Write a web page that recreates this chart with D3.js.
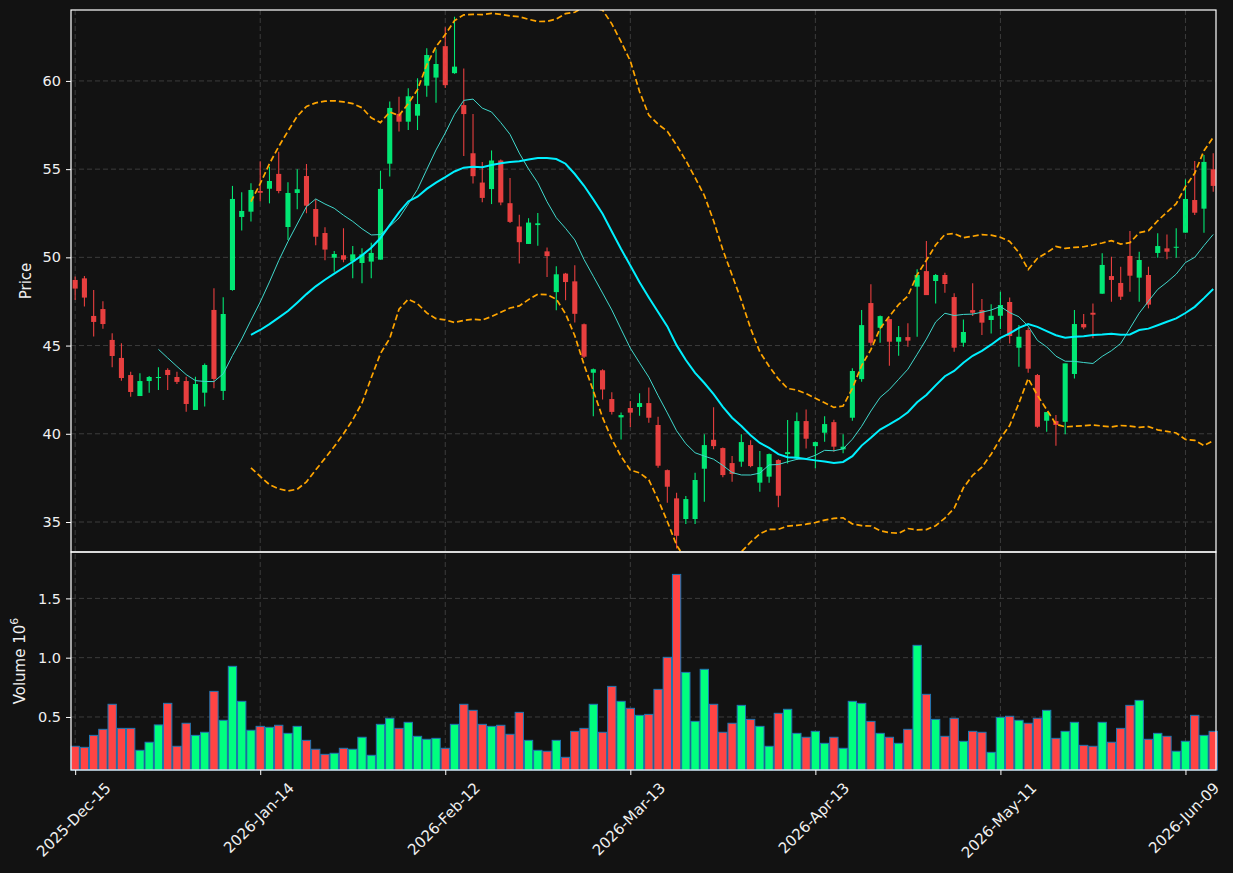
<!DOCTYPE html>
<html>
<head>
<meta charset="utf-8">
<script src="https://cdn.jsdelivr.net/npm/d3@7"></script>
<style>
    body { margin: 0; background: #121212; }
    #chart text { font-family: "DejaVu Sans", sans-serif; fill: #f0f0f0; }
</style>
</head>
<body>
<div id="chart"></div>
<script>

// daily OHLC, one entry per trading day (index 0 = 2025-Dec-15)
const opens = [48.72, 48.81, 46.68, 47.07, 45.32, 44.30, 43.33, 42.14, 42.99, 43.16,
    43.62, 43.22, 42.99, 41.35, 42.33, 47.02, 42.43, 48.15, 52.29, 52.59,
    53.76, 53.89, 54.73, 51.72, 53.65, 54.61, 52.74, 51.38, 49.98, 50.12,
    49.76, 49.68, 49.76, 49.87, 55.31, 58.13, 57.69, 58.03, 59.73, 60.19,
    61.97, 60.44, 58.63, 55.90, 54.24, 53.87, 55.49, 53.07, 51.75, 50.76,
    51.83, 50.34, 48.03, 49.08, 48.64, 46.21, 43.46, 43.60, 41.97, 40.93,
    41.46, 41.52, 41.74, 40.50, 37.94, 36.34, 35.17, 35.17, 38.02, 39.66,
    39.19, 38.34, 38.42, 39.36, 37.23, 37.57, 38.51, 38.85, 38.61, 40.72,
    39.30, 40.06, 40.66, 39.12, 40.91, 43.10, 47.41, 46.01, 46.50, 45.22,
    45.48, 48.34, 49.22, 48.66, 49.00, 47.75, 45.16, 47.01, 47.01, 46.45,
    46.69, 47.47, 44.88, 45.88, 43.33, 40.74, 40.72, 40.68, 43.39, 46.22,
    46.86, 47.94, 48.94, 48.55, 50.08, 48.85, 49.00, 50.25, 50.51, 50.55,
    51.40, 53.25, 52.76, 54.99];

const highs = [48.91, 48.94, 48.15, 47.51, 45.70, 45.13, 43.52, 43.43, 43.28, 43.77,
    43.71, 43.52, 43.24, 43.24, 43.99, 48.25, 47.74, 54.05, 53.69, 54.20,
    55.45, 55.14, 55.99, 54.25, 54.99, 55.29, 53.29, 51.70, 50.36, 51.65,
    50.64, 50.51, 50.83, 54.91, 58.83, 59.11, 59.58, 60.15, 61.85, 61.79,
    63.04, 63.64, 60.71, 58.12, 55.41, 56.06, 55.55, 54.50, 52.42, 52.22,
    52.52, 50.56, 49.49, 49.12, 49.55, 46.25, 43.70, 43.66, 42.35, 41.20,
    41.86, 42.30, 42.63, 40.97, 37.98, 36.66, 36.47, 37.79, 39.97, 41.50,
    39.22, 38.74, 39.97, 39.64, 39.02, 38.88, 38.55, 40.78, 41.21, 41.38,
    39.56, 41.00, 40.80, 39.98, 43.71, 47.01, 48.47, 46.70, 46.53, 46.11,
    46.26, 49.32, 50.93, 49.05, 49.13, 47.96, 46.48, 48.53, 47.64, 47.34,
    48.05, 47.73, 46.17, 46.01, 43.39, 41.23, 41.06, 43.99, 47.02, 46.79,
    47.39, 50.23, 50.04, 49.47, 51.49, 50.32, 49.47, 51.36, 51.30, 51.65,
    54.42, 55.46, 55.80, 55.90];

const lows = [47.58, 47.21, 45.51, 45.96, 43.77, 43.01, 42.10, 42.14, 42.33, 42.48,
    42.48, 42.82, 41.25, 41.35, 41.54, 42.58, 41.92, 48.11, 51.52, 52.03,
    53.16, 53.06, 53.63, 50.98, 52.72, 52.50, 50.68, 49.83, 49.19, 49.72,
    48.81, 48.53, 48.81, 49.87, 54.58, 57.13, 57.22, 57.22, 59.11, 58.77,
    59.60, 60.40, 55.75, 54.18, 53.13, 53.02, 52.96, 51.95, 49.65, 50.76,
    50.66, 48.88, 47.00, 47.57, 46.31, 44.30, 41.00, 41.94, 41.10, 39.68,
    40.39, 41.02, 40.63, 38.08, 36.09, 33.50, 34.88, 34.88, 36.15, 39.12,
    37.53, 37.28, 38.13, 38.10, 36.72, 37.23, 35.83, 38.32, 38.51, 39.17,
    38.04, 39.55, 38.98, 38.89, 40.74, 42.95, 44.99, 45.16, 43.86, 44.43,
    44.94, 45.50, 47.86, 47.39, 47.99, 44.65, 44.94, 46.67, 45.60, 45.69,
    45.94, 45.12, 43.80, 43.46, 40.34, 40.12, 39.32, 39.97, 43.14, 45.92,
    45.41, 47.94, 47.49, 47.58, 48.05, 47.49, 47.11, 49.98, 49.89, 49.98,
    51.40, 52.40, 51.40, 53.72];

const closes = [48.23, 47.72, 46.34, 46.22, 44.41, 43.16, 42.37, 42.99, 43.22, 43.22,
    43.33, 42.94, 41.69, 42.82, 43.90, 43.11, 46.79, 53.31, 52.63, 53.82,
    53.66, 54.33, 53.76, 53.65, 53.86, 52.93, 51.17, 50.44, 50.19, 49.87,
    50.17, 50.17, 50.25, 53.88, 58.47, 57.69, 59.13, 58.69, 61.47, 60.96,
    59.76, 60.81, 58.12, 54.60, 53.37, 55.49, 53.11, 52.01, 50.86, 51.97,
    51.93, 50.07, 49.04, 48.60, 46.80, 44.37, 43.66, 42.51, 41.24, 41.06,
    41.20, 41.74, 40.91, 38.19, 37.00, 34.22, 36.30, 37.38, 39.36, 39.30,
    37.66, 37.72, 39.53, 38.17, 38.11, 38.85, 36.49, 38.96, 40.72, 39.72,
    39.53, 40.55, 39.27, 39.27, 43.56, 46.16, 45.16, 46.67, 45.22, 45.48,
    45.28, 49.00, 47.86, 49.00, 48.49, 44.88, 45.77, 46.86, 46.30, 46.69,
    47.30, 45.54, 45.50, 43.69, 40.40, 41.23, 40.50, 43.99, 46.22, 46.03,
    46.75, 49.57, 48.72, 47.77, 48.96, 49.85, 47.32, 50.64, 50.32, 50.60,
    53.31, 52.53, 55.41, 54.05];

// volume in millions
const volumes = [0.253, 0.244, 0.345, 0.396, 0.607, 0.404, 0.404, 0.219, 0.287, 0.433,
    0.615, 0.253, 0.447, 0.345, 0.371, 0.716, 0.472, 0.927, 0.632, 0.388,
    0.421, 0.413, 0.430, 0.362, 0.421, 0.303, 0.228, 0.185, 0.194, 0.236,
    0.228, 0.329, 0.177, 0.438, 0.489, 0.404, 0.455, 0.337, 0.312, 0.320,
    0.236, 0.438, 0.607, 0.556, 0.438, 0.421, 0.430, 0.354, 0.539, 0.303,
    0.219, 0.211, 0.303, 0.160, 0.379, 0.404, 0.607, 0.371, 0.758, 0.632,
    0.573, 0.514, 0.522, 0.733, 1.003, 1.702, 0.876, 0.463, 0.902, 0.607,
    0.371, 0.447, 0.598, 0.480, 0.421, 0.253, 0.531, 0.565, 0.362, 0.329,
    0.379, 0.278, 0.329, 0.236, 0.632, 0.615, 0.463, 0.362, 0.329, 0.278,
    0.396, 1.104, 0.691, 0.480, 0.337, 0.489, 0.295, 0.379, 0.371, 0.202,
    0.497, 0.506, 0.472, 0.447, 0.489, 0.556, 0.320, 0.379, 0.455, 0.261,
    0.253, 0.455, 0.287, 0.404, 0.598, 0.640, 0.312, 0.362, 0.337, 0.211,
    0.295, 0.514, 0.345, 0.379];

const tickIndex = [0, 20, 40, 60, 80, 100, 120];
const tickLabels = ["2025-Dec-15", "2026-Jan-14", "2026-Feb-12", "2026-Mar-13",
    "2026-Apr-13", "2026-May-11", "2026-Jun-09"];
const priceTicks = [35, 40, 45, 50, 55, 60];
const volumeTicks = [0.5, 1.0, 1.5];


class CandleVis {

    constructor(parentElement) {
        this.parentElement = parentElement;
        this.initVis();
    }

    initVis() {
        let vis = this;

        vis.width = 1233;
        vis.height = 873;
        vis.left = 71;
        vis.right = 1216;
        vis.priceTop = 10;
        vis.priceBottom = 552;
        vis.volBottom = 770;

        vis.upColor = "#00ff7f";
        vis.downColor = "#ff4444";

        vis.svg = d3.select("#" + vis.parentElement).append("svg")
            .attr("width", vis.width)
            .attr("height", vis.height)
            .style("background", "#121212");

        vis.svg.append("defs").append("clipPath")
            .attr("id", "priceClip")
            .append("rect")
            .attr("x", vis.left)
            .attr("y", vis.priceTop)
            .attr("width", vis.right - vis.left)
            .attr("height", vis.priceBottom - vis.priceTop);

        // scales
        vis.x = d3.scaleLinear().domain([-0.45, 123.3]).range([vis.left, vis.right]);
        vis.y = d3.scaleLinear().domain([33.3, 64.02]).range([vis.priceBottom, vis.priceTop]);
        vis.yVol = d3.scaleLinear().domain([0.053, 1.891]).range([vis.volBottom, vis.priceBottom]);

        vis.step = vis.x(1) - vis.x(0);

        vis.wrangleData();
    }

    wrangleData() {
        let vis = this;

        vis.displayData = closes.map((c, i) => ({
            i: i, open: opens[i], high: highs[i], low: lows[i], close: c, volume: volumes[i]
        }));

        // moving averages and bollinger bands (20, 2) from the closes
        let rolling = (n, fn) => closes.map((c, i) => i < n - 1 ? null : fn(closes.slice(i - n + 1, i + 1)));
        vis.mav10 = rolling(10, d3.mean);
        vis.mav20 = rolling(20, d3.mean);
        vis.bbUpper = rolling(20, s => d3.mean(s) + 2 * d3.deviation(s));
        vis.bbLower = rolling(20, s => d3.mean(s) - 2 * d3.deviation(s));

        vis.updateVis();
    }

    updateVis() {
        let vis = this;

        // grid
        let grid = vis.svg.append("g").attr("class", "grid")
            .attr("stroke", "#3c3c3c")
            .attr("stroke-width", 1)
            .attr("stroke-dasharray", "5,3");

        grid.selectAll(".vgrid").data(tickIndex).enter().append("line")
            .attr("x1", d => vis.x(d)).attr("x2", d => vis.x(d))
            .attr("y1", vis.priceTop).attr("y2", vis.volBottom);

        grid.selectAll(".pgrid").data(priceTicks).enter().append("line")
            .attr("x1", vis.left).attr("x2", vis.right)
            .attr("y1", d => vis.y(d)).attr("y2", d => vis.y(d));

        grid.selectAll(".vogrid").data(volumeTicks).enter().append("line")
            .attr("x1", vis.left).attr("x2", vis.right)
            .attr("y1", d => vis.yVol(d)).attr("y2", d => vis.yVol(d));

        // volume bars
        let barW = vis.step * 0.9;
        vis.svg.append("g").selectAll(".vol")
            .data(vis.displayData)
            .enter().append("rect")
            .attr("class", "vol")
            .attr("x", d => vis.x(d.i) - barW / 2)
            .attr("y", d => vis.yVol(d.volume))
            .attr("width", barW)
            .attr("height", d => vis.volBottom - vis.yVol(d.volume))
            .attr("fill", d => d.close >= d.open ? vis.upColor : vis.downColor)
            .attr("stroke", "#1f77b4")
            .attr("stroke-width", 1);

        // candles
        let price = vis.svg.append("g").attr("clip-path", "url(#priceClip)");
        let candle = price.selectAll(".candle")
            .data(vis.displayData)
            .enter().append("g")
            .attr("class", "candle")
            .attr("opacity", 0.9)
            .attr("fill", d => d.close >= d.open ? vis.upColor : vis.downColor)
            .attr("stroke", d => d.close >= d.open ? vis.upColor : vis.downColor);

        candle.append("line")
            .attr("x1", d => vis.x(d.i)).attr("x2", d => vis.x(d.i))
            .attr("y1", d => vis.y(d.high)).attr("y2", d => vis.y(d.low))
            .attr("stroke-width", 1.1);

        let bodyW = vis.step * 0.55;
        candle.append("rect")
            .attr("x", d => vis.x(d.i) - bodyW / 2)
            .attr("y", d => vis.y(Math.max(d.open, d.close)))
            .attr("width", bodyW)
            .attr("height", d => Math.max(1, Math.abs(vis.y(d.open) - vis.y(d.close))))
            .attr("stroke", "none");

        // lines
        let line = arr => d3.line()
            .defined(d => d !== null)
            .x((d, i) => vis.x(i))
            .y(d => vis.y(d))(arr);

        price.append("path").attr("d", line(vis.mav10))
            .attr("fill", "none").attr("stroke", "#40d8cc").attr("stroke-width", 1);
        price.append("path").attr("d", line(vis.mav20))
            .attr("fill", "none").attr("stroke", "#00f0ff").attr("stroke-width", 2);
        [vis.bbUpper, vis.bbLower].forEach(arr => {
            price.append("path").attr("d", line(arr))
                .attr("fill", "none").attr("stroke", "#ffa500")
                .attr("stroke-width", 1.7).attr("stroke-dasharray", "6,3");
        });

        // panel frames
        [[vis.priceTop, vis.priceBottom], [vis.priceBottom, vis.volBottom]].forEach(p => {
            vis.svg.append("rect")
                .attr("x", vis.left).attr("y", p[0])
                .attr("width", vis.right - vis.left).attr("height", p[1] - p[0])
                .attr("fill", "none").attr("stroke", "#ffffff").attr("stroke-width", 1.2);
        });

        // axes
        let styleAxis = g => {
            g.select(".domain").remove();
            g.selectAll(".tick line").attr("stroke", "#ffffff");
            g.selectAll(".tick text").attr("font-size", 14.5).attr("fill", "#f0f0f0");
        };

        vis.svg.append("g")
            .attr("transform", `translate(${vis.left},0)`)
            .call(d3.axisLeft(vis.y).tickValues(priceTicks).tickFormat(d3.format("d")).tickSize(5).tickPadding(5))
            .call(styleAxis);

        vis.svg.append("g")
            .attr("transform", `translate(${vis.left},0)`)
            .call(d3.axisLeft(vis.yVol).tickValues(volumeTicks).tickFormat(d3.format(".1f")).tickSize(5).tickPadding(5))
            .call(styleAxis);

        let xAxis = vis.svg.append("g")
            .attr("transform", `translate(0,${vis.volBottom})`)
            .call(d3.axisBottom(vis.x).tickValues(tickIndex).tickFormat((d, i) => tickLabels[i]).tickSize(5))
            .call(styleAxis);

        xAxis.selectAll(".tick text")
            .attr("font-size", 15)
            .attr("y", 0)
            .attr("dy", "0.35em")
            .attr("text-anchor", "middle")
            .attr("transform", function () {
                let w = this.getComputedTextLength();
                let off = 10 + (w + 15) * 0.3536;
                return `translate(-2,${off}) rotate(-45)`;
            });

        // axis labels
        vis.svg.append("text")
            .attr("transform", `translate(31,${(vis.priceTop + vis.priceBottom) / 2}) rotate(-90)`)
            .attr("text-anchor", "middle")
            .attr("font-size", 15)
            .text("Price");

        let volLabel = vis.svg.append("text")
            .attr("transform", `translate(25,${(vis.priceBottom + vis.volBottom) / 2}) rotate(-90)`)
            .attr("text-anchor", "middle")
            .attr("font-size", 15);
        volLabel.append("tspan").text("Volume  10");
        volLabel.append("tspan").attr("font-size", 11).attr("dy", "-0.6em").text("6");
    }
}

new CandleVis("chart");
</script>
</body>
</html>
